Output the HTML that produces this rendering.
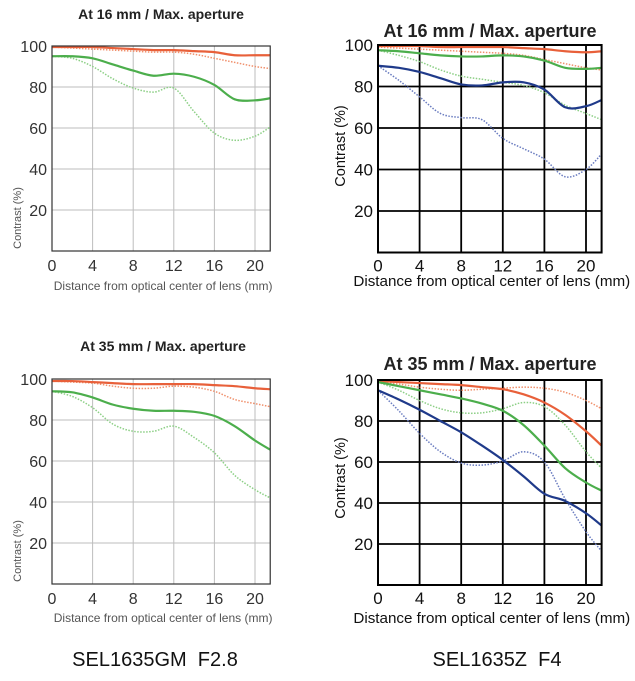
<!DOCTYPE html>
<html><head><meta charset="utf-8">
<style>
body{margin:0;background:#fff;width:635px;height:681px;overflow:hidden;font-family:"Liberation Sans",sans-serif}
svg{position:absolute;left:0;top:0}
</style></head>
<body>
<svg id="svg" width="635" height="681" viewBox="0 0 635 681">
<text x="155" y="666" font-size="20" text-anchor="middle" fill="#111">SEL1635GM&#160; F2.8</text>
<text x="497" y="666" font-size="20" text-anchor="middle" fill="#111">SEL1635Z&#160; F4</text>
</svg>
<script>
const xs = [0,2,4,6,8,10,12,14,16,18,20,21.5];
const xTicks = [0,4,8,12,16,20];
const yTicks = [20,40,60,80,100];
// chart 1: GM 16mm
const tlOrangeSolid = [99.5,99.5,99.5,99,98.5,98,98,97.5,97,95.5,95.5,95.5];
const tlOrangeDot = [99.5,99,98.5,98,97.5,97,97,96,94,92,90,89];
const tlGreenSolid = [95,95,94,91,88,85.5,86.5,85,81,74,73.5,74.5];
const tlGreenDot = [95,94,90,84,79.5,77.5,79.5,68,57.5,54,56,60.5];
// chart 2: Z 16mm
const trOrangeSolid = [99.5,99.5,99.5,99,99,99,99,98.5,98,97,96.5,97];
const trOrangeDot = [99,98.5,98,97.5,97,96.5,96,95,93,91,89,88];
const trGreenSolid = [97.5,97,96,95,94.5,94.5,95,94.5,92.5,89,88.5,89];
const trGreenDot = [97.5,95,92,88,85,83.5,82,80.5,77,71,67,64];
const trBlueSolid = [90,89,87,84,81,80.5,82,82,78.5,70,70.5,73.5];
const trBlueDot = [90,83,75,67,65,64,55,50,45,36.5,40,47.5];
// chart 3: GM 35mm
const blOrangeSolid = [99,99,98.5,98,97.5,97.5,97.5,97.5,97,96.5,95.5,95];
const blOrangeDot = [99,98.5,98,96.5,95.5,95.5,96.5,96,94,90,88,86.5];
const blGreenSolid = [94,93.5,91,87.5,85.5,84.5,84.5,84,82,77,70,65.5];
const blGreenDot = [94,91.5,86,78,74.5,74.5,77,71.5,64,53,46,42];
// chart 4: Z 35mm
const brOrangeSolid = [99.5,99,98.5,98,97.5,96.5,95.5,93,89,83,75,68];
const brOrangeDot = [99,98,96.5,95.5,95,95.5,96,96.5,96,94,90,86];
const brGreenSolid = [99,97,95,93,91,88.5,85,78,68,57,50,46];
const brGreenDot = [99,95,90,86,84,84,86,89,87,78,65,57];
const brBlueSolid = [95,90.5,85.5,80,74.5,68,61,53,44.5,41,35,29];
const brBlueDot = [95,85,74,65,59.5,58.5,60.5,65,60,42,26,16.5];

const NS='http://www.w3.org/2000/svg';
const svg=document.getElementById('svg');
function mk(tag,attrs,parent){const e=document.createElementNS(NS,tag);for(const k in attrs)e.setAttribute(k,attrs[k]);(parent||svg).appendChild(e);return e;}

const C={os:'#e8603a',od:'#f0906c',gs:'#4cae4c',gd:'#8ccf85',bs:'#1f3a8a',bd:'#6a7cc0'};

function chart(cfg){
  const g=mk('g',{});
  
  
  const sx=v=>cfg.x0+(cfg.x20-cfg.x0)*v/20;
  const sy=v=>cfg.y0+(cfg.y100-cfg.y0)*v/100;
  const R=sx(21.5), T=sy(100), B=sy(0);
  mk('rect',{x:cfg.x0,y:T,width:R-cfg.x0,height:B-T,fill:'#fff'},g);
  xTicks.forEach(t=>{if(t>0){const l=mk('line',{x1:sx(t),x2:sx(t),y1:T,y2:B,stroke:cfg.grid,'stroke-width':cfg.gw},g);
    }
    const tx=mk('text',{x:sx(t),y:B+cfg.xtd,'font-size':cfg.tf,'text-anchor':'middle',fill:cfg.tc},g);tx.textContent=t;
    });
  yTicks.forEach(t=>{if(t<100){const l=mk('line',{x1:cfg.x0,x2:R,y1:sy(t),y2:sy(t),stroke:cfg.grid,'stroke-width':cfg.gw},g);
    }
    const tx=mk('text',{x:cfg.x0-5,y:sy(t)+6,'font-size':cfg.tf,'text-anchor':'end',fill:cfg.tc},g);tx.textContent=t;
    });
  cfg.series.forEach(s=>{
    const p=xs.map((x,i)=>[sx(x),sy(s.d[i])]);
    let d='M'+p[0][0]+','+p[0][1];
    for(let i=0;i<p.length-1;i++){const p0=p[i-1]||p[i],p1=p[i],p2=p[i+1],p3=p[i+2]||p2;
      d+=' C'+(p1[0]+(p2[0]-p0[0])/6)+','+(p1[1]+(p2[1]-p0[1])/6)+' '+(p2[0]-(p3[0]-p1[0])/6)+','+(p2[1]-(p3[1]-p1[1])/6)+' '+p2[0]+','+p2[1];}
    const a={d:d,fill:'none',stroke:s.c,'stroke-width':s.dot?1.5:2.2};
    if(s.dot)a['stroke-dasharray']='1.5,1.5';
    const path=mk('path',a,g);
    
    
  });
  const fr=mk('rect',{x:cfg.x0,y:T,width:R-cfg.x0,height:B-T,fill:'none',stroke:cfg.frame,'stroke-width':cfg.fw},g);
  
  const ti=mk('text',{x:cfg.tx,y:cfg.ty,'font-size':cfg.tsz,'font-weight':'bold','text-anchor':'middle',fill:'#222'},g);ti.textContent=cfg.title;
  
  const xl=mk('text',{x:(cfg.x0+R)/2+2,y:cfg.xly,'font-size':cfg.af,'text-anchor':'middle',fill:cfg.ac},g);xl.textContent='Distance from optical center of lens (mm)';
  
  const yl=mk('text',{x:0,y:0,'font-size':cfg.yaf||cfg.af,'text-anchor':'middle',fill:cfg.ac,transform:'translate('+cfg.ylx+','+cfg.yly+') rotate(-90)'},g);yl.textContent='Contrast (%)';
  
}
const L={grid:'#bdbdbd',gw:1,frame:'#333',fw:1.2,tf:16,tc:'#333',xtd:20,tsz:14,af:12,yaf:11,ac:'#555'};
const Rr={grid:'#000',gw:1.8,frame:'#000',fw:2,tf:17,tc:'#111',xtd:19,tsz:18,af:15.2,yaf:14.5,ac:'#111'};
chart(Object.assign({},L,{name:'chart-gm-16mm',x0:52,x20:255,y0:251,y100:46,title:'At 16 mm / Max. aperture',tx:161,ty:19,xly:290,ylx:21,yly:218,
  series:[{d:tlOrangeDot,c:C.od,dot:1,n:'orange-dotted-line'},{d:tlGreenDot,c:C.gd,dot:1,n:'green-dotted-line'},{d:tlOrangeSolid,c:C.os,n:'orange-solid-line'},{d:tlGreenSolid,c:C.gs,n:'green-solid-line'}]}));
chart(Object.assign({},Rr,{name:'chart-z-16mm',x0:378,x20:586,y0:252.5,y100:45,title:'At 16 mm / Max. aperture',tx:490,ty:37,xly:286,ylx:345,yly:146,
  series:[{d:trOrangeDot,c:C.od,dot:1,n:'orange-dotted-line'},{d:trGreenDot,c:C.gd,dot:1,n:'green-dotted-line'},{d:trBlueDot,c:C.bd,dot:1,n:'blue-dotted-line'},{d:trOrangeSolid,c:C.os,n:'orange-solid-line'},{d:trGreenSolid,c:C.gs,n:'green-solid-line'},{d:trBlueSolid,c:C.bs,n:'blue-solid-line'}]}));
chart(Object.assign({},L,{name:'chart-gm-35mm',x0:52,x20:255,y0:584,y100:379,title:'At 35 mm / Max. aperture',tx:163,ty:351,xly:622,ylx:21,yly:551,
  series:[{d:blOrangeDot,c:C.od,dot:1,n:'orange-dotted-line'},{d:blGreenDot,c:C.gd,dot:1,n:'green-dotted-line'},{d:blOrangeSolid,c:C.os,n:'orange-solid-line'},{d:blGreenSolid,c:C.gs,n:'green-solid-line'}]}));
chart(Object.assign({},Rr,{name:'chart-z-35mm',x0:378,x20:586,y0:585,y100:380,title:'At 35 mm / Max. aperture',tx:490,ty:370,xly:623,ylx:345,yly:478,
  series:[{d:brOrangeDot,c:C.od,dot:1,n:'orange-dotted-line'},{d:brGreenDot,c:C.gd,dot:1,n:'green-dotted-line'},{d:brBlueDot,c:C.bd,dot:1,n:'blue-dotted-line'},{d:brOrangeSolid,c:C.os,n:'orange-solid-line'},{d:brGreenSolid,c:C.gs,n:'green-solid-line'},{d:brBlueSolid,c:C.bs,n:'blue-solid-line'}]}));
</script>
</body></html>
